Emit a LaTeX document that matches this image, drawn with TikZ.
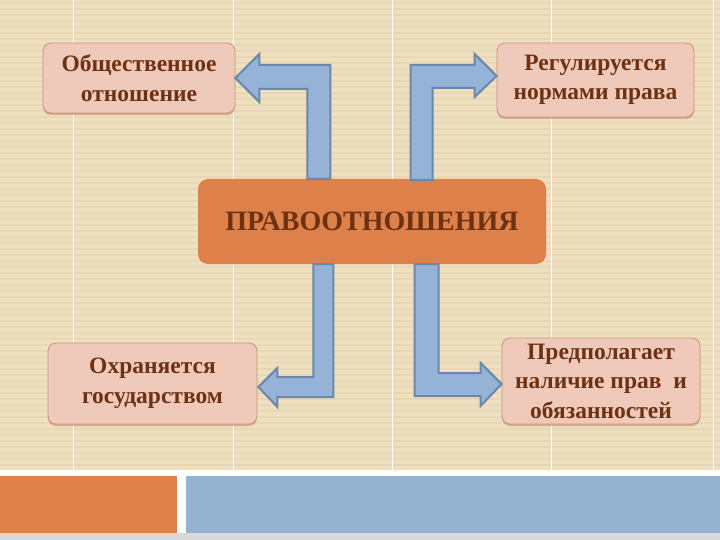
\documentclass[tikz,border=0pt]{standalone}
\usepackage{fontspec}
\setmainfont{Liberation Serif}
\usetikzlibrary{shadows}
\definecolor{paper}{HTML}{EEDFC0}
\definecolor{stripe}{HTML}{E8D7B3}
\definecolor{pinkbox}{HTML}{EFC9BA}
\definecolor{pinkedge}{HTML}{C9957A}
\definecolor{brownink}{HTML}{6E3112}
\definecolor{mainorange}{HTML}{DE8049}
\definecolor{arrowblue}{HTML}{95B3D6}
\definecolor{arrowedge}{HTML}{6A88AC}
\definecolor{barblue}{HTML}{94B3D1}
\tikzset{
	infobox/.style={draw=pinkedge, fill=pinkbox, rounded corners=8pt, line width=0.8pt,
		text=brownink, font=\fontsize{23.5}{29.5}\selectfont\bfseries, align=center,
		drop shadow={shadow xshift=0pt, shadow yshift=-2pt, fill=pinkedge, opacity=0.7}},
	mainbox/.style={fill=mainorange, rounded corners=10pt, text=brownink,
		font=\fontsize{28}{30}\selectfont\bfseries},
	barrow/.style={fill=arrowblue, draw=arrowedge, line width=2pt, line join=miter}
}
\begin{document}
\begin{tikzpicture}[x=1pt,y=-1pt]
		\useasboundingbox (0,0) rectangle (720,540);
		% background
		\fill[paper] (0,0) rectangle (720,470);
		\foreach \y in {3,9,...,468}
			\draw[stripe, line width=1.2pt] (0,\y) -- (720,\y);
		\foreach \x in {73,233,392,551,713}
			\draw[white, line width=0.9pt] (\x,0) -- (\x,470);
		\fill[white] (0,470) rectangle (720,476);
		\fill[mainorange] (0,476) rectangle (177,533);
		\fill[barblue] (186,476) rectangle (720,533);
		\fill[black!15] (0,533) rectangle (720,540);
		% boxes
		\node[mainbox, minimum width=348pt, minimum height=85pt] (pravo) at (372,221.5) {ПРАВООТНОШЕНИЯ};
		\node[infobox, minimum width=192pt, minimum height=70pt] (obsh) at (139,78) {Общественное\\отношение};
		\node[infobox, minimum width=197pt, minimum height=74pt] (norm) at (595.5,80) {Регулируется\\нормами права};
		\node[infobox, minimum width=209pt, minimum height=81pt] (gos) at (152.5,383.5) {Охраняется\\государством};
		\node[infobox, minimum width=198pt, minimum height=86pt] (prava) at (601,381) {Предполагает\\наличие прав\ \ и\\обязанностей};
		% arrows
		\draw[barrow] (obsh.east) -- ++(24,-24) -- ++(0,11) -- ++(71,0) -- ++(0,114)
			-- ++(-23,0) -- ++(0,-90) -- ++(-48,0) -- ++(0,13) -- cycle;
		\draw[barrow] (norm.west) ++(0,-4) -- ++(-22,-22) -- ++(0,11) -- ++(-64,0) -- ++(0,115)
			-- ++(22,0) -- ++(0,-92) -- ++(42,0) -- ++(0,9) -- cycle;
		\draw[barrow] (gos.east) ++(1,3.5) -- ++(19,-19) -- ++(0,9) -- ++(36,0) -- ++(0,-113)
			-- ++(20,0) -- ++(0,133) -- ++(-56,0) -- ++(0,10) -- cycle;
		\draw[barrow] (prava.west) ++(0,3) -- ++(-21,-21) -- ++(0,10) -- ++(-42,0) -- ++(0,-109)
			-- ++(-24,0) -- ++(0,132) -- ++(66,0) -- ++(0,10) -- cycle;
	\end{tikzpicture}
\end{document}
